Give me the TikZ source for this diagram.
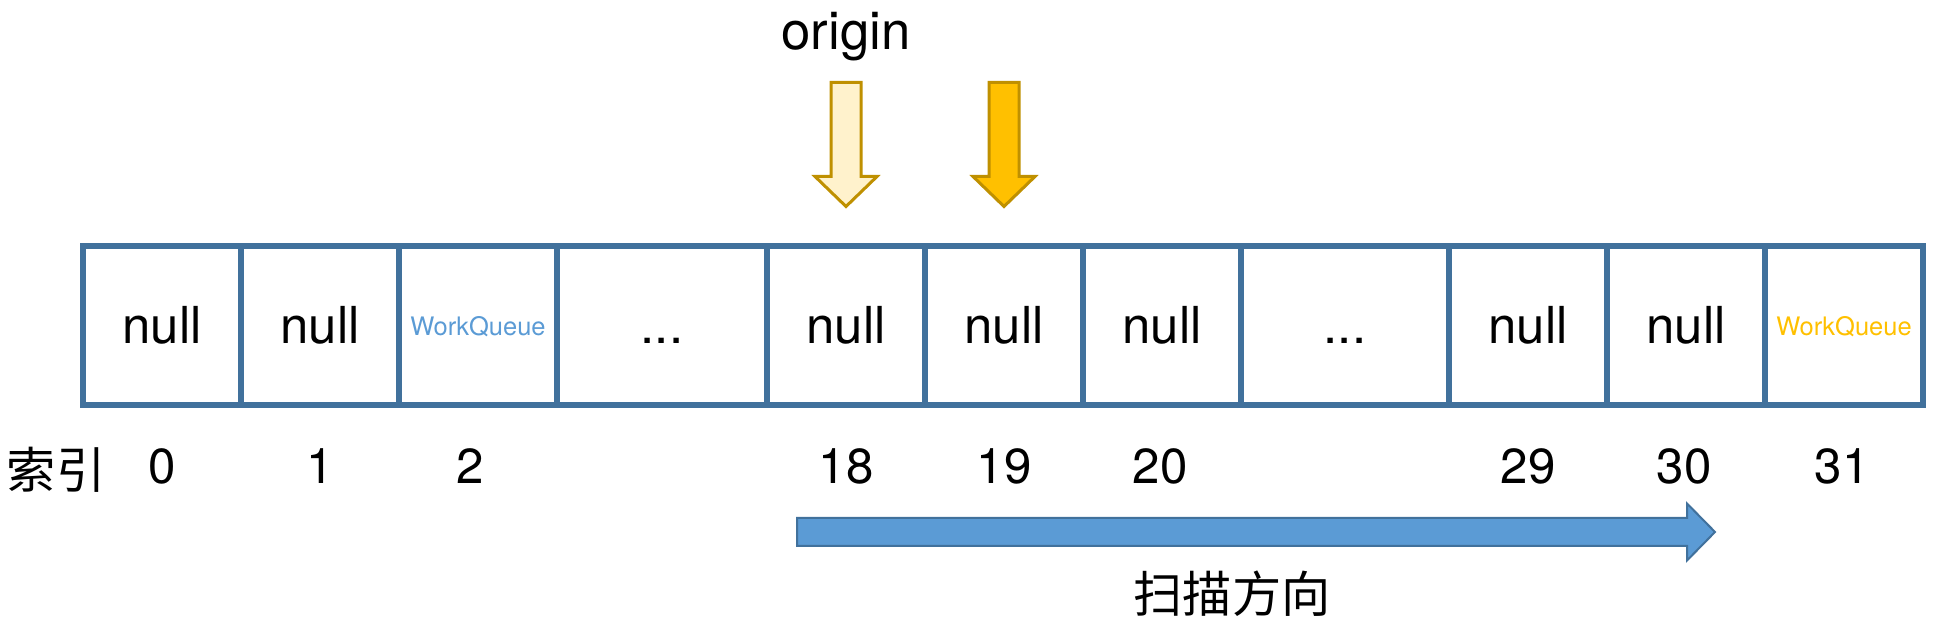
\documentclass[tikz,border=0pt]{standalone}
\usepackage{fontspec}
\setmainfont{TeX Gyre Heros}
\newfontfamily\cjk{Noto Sans CJK SC}
\usetikzlibrary{positioning,calc}

\definecolor{boxblue}{RGB}{65,113,156}
\definecolor{queueblue}{RGB}{91,155,213}
\definecolor{queuegold}{RGB}{255,192,0}
\definecolor{ptrline}{RGB}{191,144,0}
\definecolor{ptrlight}{RGB}{255,242,204}

\begin{document}
\begin{tikzpicture}[
    % --- styles ---
    cell/.style={draw=boxblue, line width=0.12cm, rectangle, outer sep=0pt, inner sep=0pt,
        minimum width=3.16cm, minimum height=3.18cm, text height=21pt, text depth=0pt,
        font=\fontsize{29}{34}\selectfont},
    queue cell/.style={cell, text height=11.9pt, font=\fontsize{14.5}{17}\selectfont},
    index text/.style={font=\fontsize{28}{33}\selectfont, anchor=base},
    cjk text/.style={font=\cjk\fontsize{28}{33}\selectfont},
    % hollow pointer arrows above the table
    pointer/.style={draw=ptrline, line width=0.06cm, line join=miter},
    % scan direction arrow
    scan arrow/.style={draw=boxblue, fill=queueblue, line width=0.04cm, line join=miter}
]
    \useasboundingbox (0,0) rectangle (38.88,12.68);

    % --- 1. table of slots ---
    \node[cell] (c0) at (3.24,6.17) {null};
    \node[cell, right=0pt of c0] (c1) {null};
    \node[queue cell, right=0pt of c1, text=queueblue] (c2) {WorkQueue};
    \node[cell, right=0pt of c2, minimum width=4.2cm] (cA) {...};
    \node[cell, right=0pt of cA] (c18) {null};
    \node[cell, right=0pt of c18] (c19) {null};
    \node[cell, right=0pt of c19] (c20) {null};
    \node[cell, right=0pt of c20, minimum width=4.16cm] (cB) {...};
    \node[cell, right=0pt of cB] (c29) {null};
    \node[cell, right=0pt of c29] (c30) {null};
    \node[queue cell, right=0pt of c30, text=queuegold] (c31) {WorkQueue};

    % --- 2. index row ---
    \foreach \i/\s in {0/0, 1/0, 2/-0.16, 18/0, 19/0, 20/-0.04, 29/0, 30/-0.04, 31/-0.04}
        \node[index text] (i\i) at ($(c\i.south)+(\s,-1.58)$) {\i};
    \coordinate (idxref) at (1.12,0);
    \node[cjk text, anchor=base, yshift=-0.1cm] (idxtitle) at (idxref |- i0.base) {索引};

    % --- 3. pointers ---
    \coordinate (p18) at ($(c18.north)+(0,3.27)$);
    \coordinate (p19) at ($(c19.north)+(0,3.27)$);
    \draw[pointer, fill=ptrlight] ($(p18)+(-0.3,0)$) -- ++(0.6,0) -- ++(0,-1.88) -- ++(0.32,0)
        -- ++(-0.62,-0.6) -- ++(-0.62,0.6) -- ++(0.32,0) -- cycle;
    \draw[pointer, fill=queuegold] ($(p19)+(-0.3,0)$) -- ++(0.6,0) -- ++(0,-1.88) -- ++(0.32,0)
        -- ++(-0.62,-0.6) -- ++(-0.62,0.6) -- ++(0.32,0) -- cycle;
    \node[font=\fontsize{30}{36}\selectfont, anchor=base] (origin) at ($(p18)+(0,0.65)$) {origin};

    % --- 4. scan direction ---
    \coordinate (scanstart) at ($(c18.south west)+(0.6,-2.54)$);
    \draw[scan arrow] ($(scanstart)+(0,0.28)$) -- ++(17.8,0) -- ++(0,0.29) -- ++(0.56,-0.57)
        -- ++(-0.56,-0.57) -- ++(0,0.29) -- ++(-17.8,0) -- cycle;
    \node[cjk text] (scanlabel) at ($(scanstart)+(8.7,-1.24)$) {扫描方向};

\end{tikzpicture}
\end{document}
